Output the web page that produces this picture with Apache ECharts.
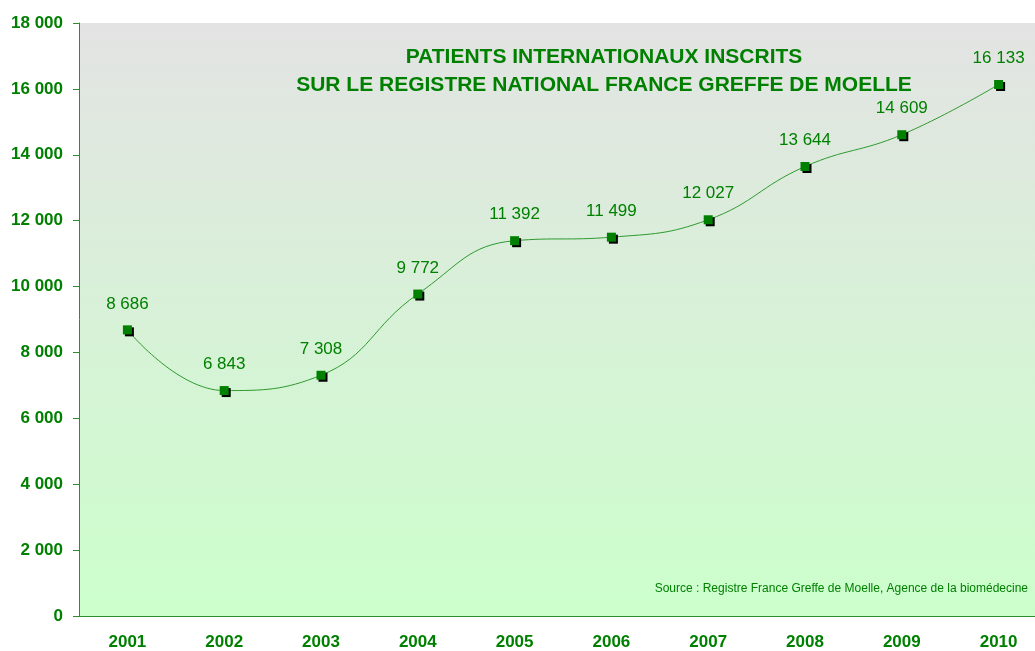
<!DOCTYPE html>
<html>
<head>
<meta charset="utf-8">
<script src="https://cdn.jsdelivr.net/npm/echarts@6/dist/echarts.min.js"></script>
<style>
  html, body { margin: 0; padding: 0; background: #fff; overflow: hidden; }
  /* plot area runs past the right edge of the picture, as in the original */
  #chart { width: 1047px; height: 651px; }
</style>
</head>
<body>
<div id="chart"></div>
<script>
const years = ["2001", "2002", "2003", "2004", "2005", "2006", "2007", "2008", "2009", "2010"];
const patients = [8686, 6843, 7308, 9772, 11392, 11499, 12027, 13644, 14609, 16133];

const green = "#008000";
const fmt = (v) => String(v).replace(/\B(?=(\d{3})+(?!\d))/g, " ");

const myChart = echarts.init(document.getElementById("chart"));
myChart.setOption({
  animation: false,
  title: {
    text: "PATIENTS INTERNATIONAUX INSCRITS\nSUR LE REGISTRE NATIONAL FRANCE GREFFE DE MOELLE",
    left: 599,
    top: 38,
    textAlign: "center",
    textStyle: {
      color: green,
      fontFamily: "Liberation Sans",
      fontSize: 21,
      fontWeight: "bold",
      lineHeight: 28,
    },
  },
  graphic: [
    {
      type: "text",
      right: 19,
      top: 583,
      style: {
        text: "Source : Registre France Greffe de Moelle, Agence de la biomédecine",
        fill: green,
        font: "12px Liberation Sans",
      },
    },
  ],
  grid: {
    left: 79,
    right: 0,
    top: 23,
    bottom: 35,
    show: true,
    borderWidth: 0,
    backgroundColor: new echarts.graphic.LinearGradient(0, 0, 0, 1, [
      { offset: 0, color: "#e3e3e3" },
      { offset: 1, color: "#ccffcc" },
    ]),
  },
  xAxis: {
    type: "category",
    data: years,
    boundaryGap: true,
    axisLine: { lineStyle: { color: "#2e8b2e", width: 1 } },
    axisTick: { length: 6, lineStyle: { color: "#2e8b2e" } },
    axisLabel: {
      color: green,
      fontFamily: "Liberation Sans",
      fontSize: 17,
      fontWeight: "bold",
      margin: 18,
    },
  },
  yAxis: {
    type: "value",
    min: 0,
    max: 18000,
    interval: 2000,
    splitLine: { show: false },
    axisLine: { show: true, lineStyle: { color: "#2e8b2e", width: 1 } },
    axisTick: { show: true, length: 6, lineStyle: { color: "#2e8b2e" } },
    axisLabel: {
      color: green,
      fontFamily: "Liberation Sans",
      fontSize: 17,
      fontWeight: "bold",
      margin: 16,
      formatter: fmt,
    },
  },
  series: [
    {
      type: "line",
      data: patients,
      smooth: 0.45,
      symbol: "rect",
      symbolSize: 9,
      lineStyle: { color: "#2f9a2f", width: 1 },
      itemStyle: {
        color: "#008000",
        borderWidth: 0,
        shadowColor: "#000",
        shadowOffsetX: 2,
        shadowOffsetY: 2,
      },
      label: {
        show: true,
        position: "top",
        distance: 13,
        color: green,
        fontFamily: "Liberation Sans",
        fontSize: 17,
        formatter: (p) => fmt(p.value),
      },
    },
  ],
});
</script>
</body>
</html>
